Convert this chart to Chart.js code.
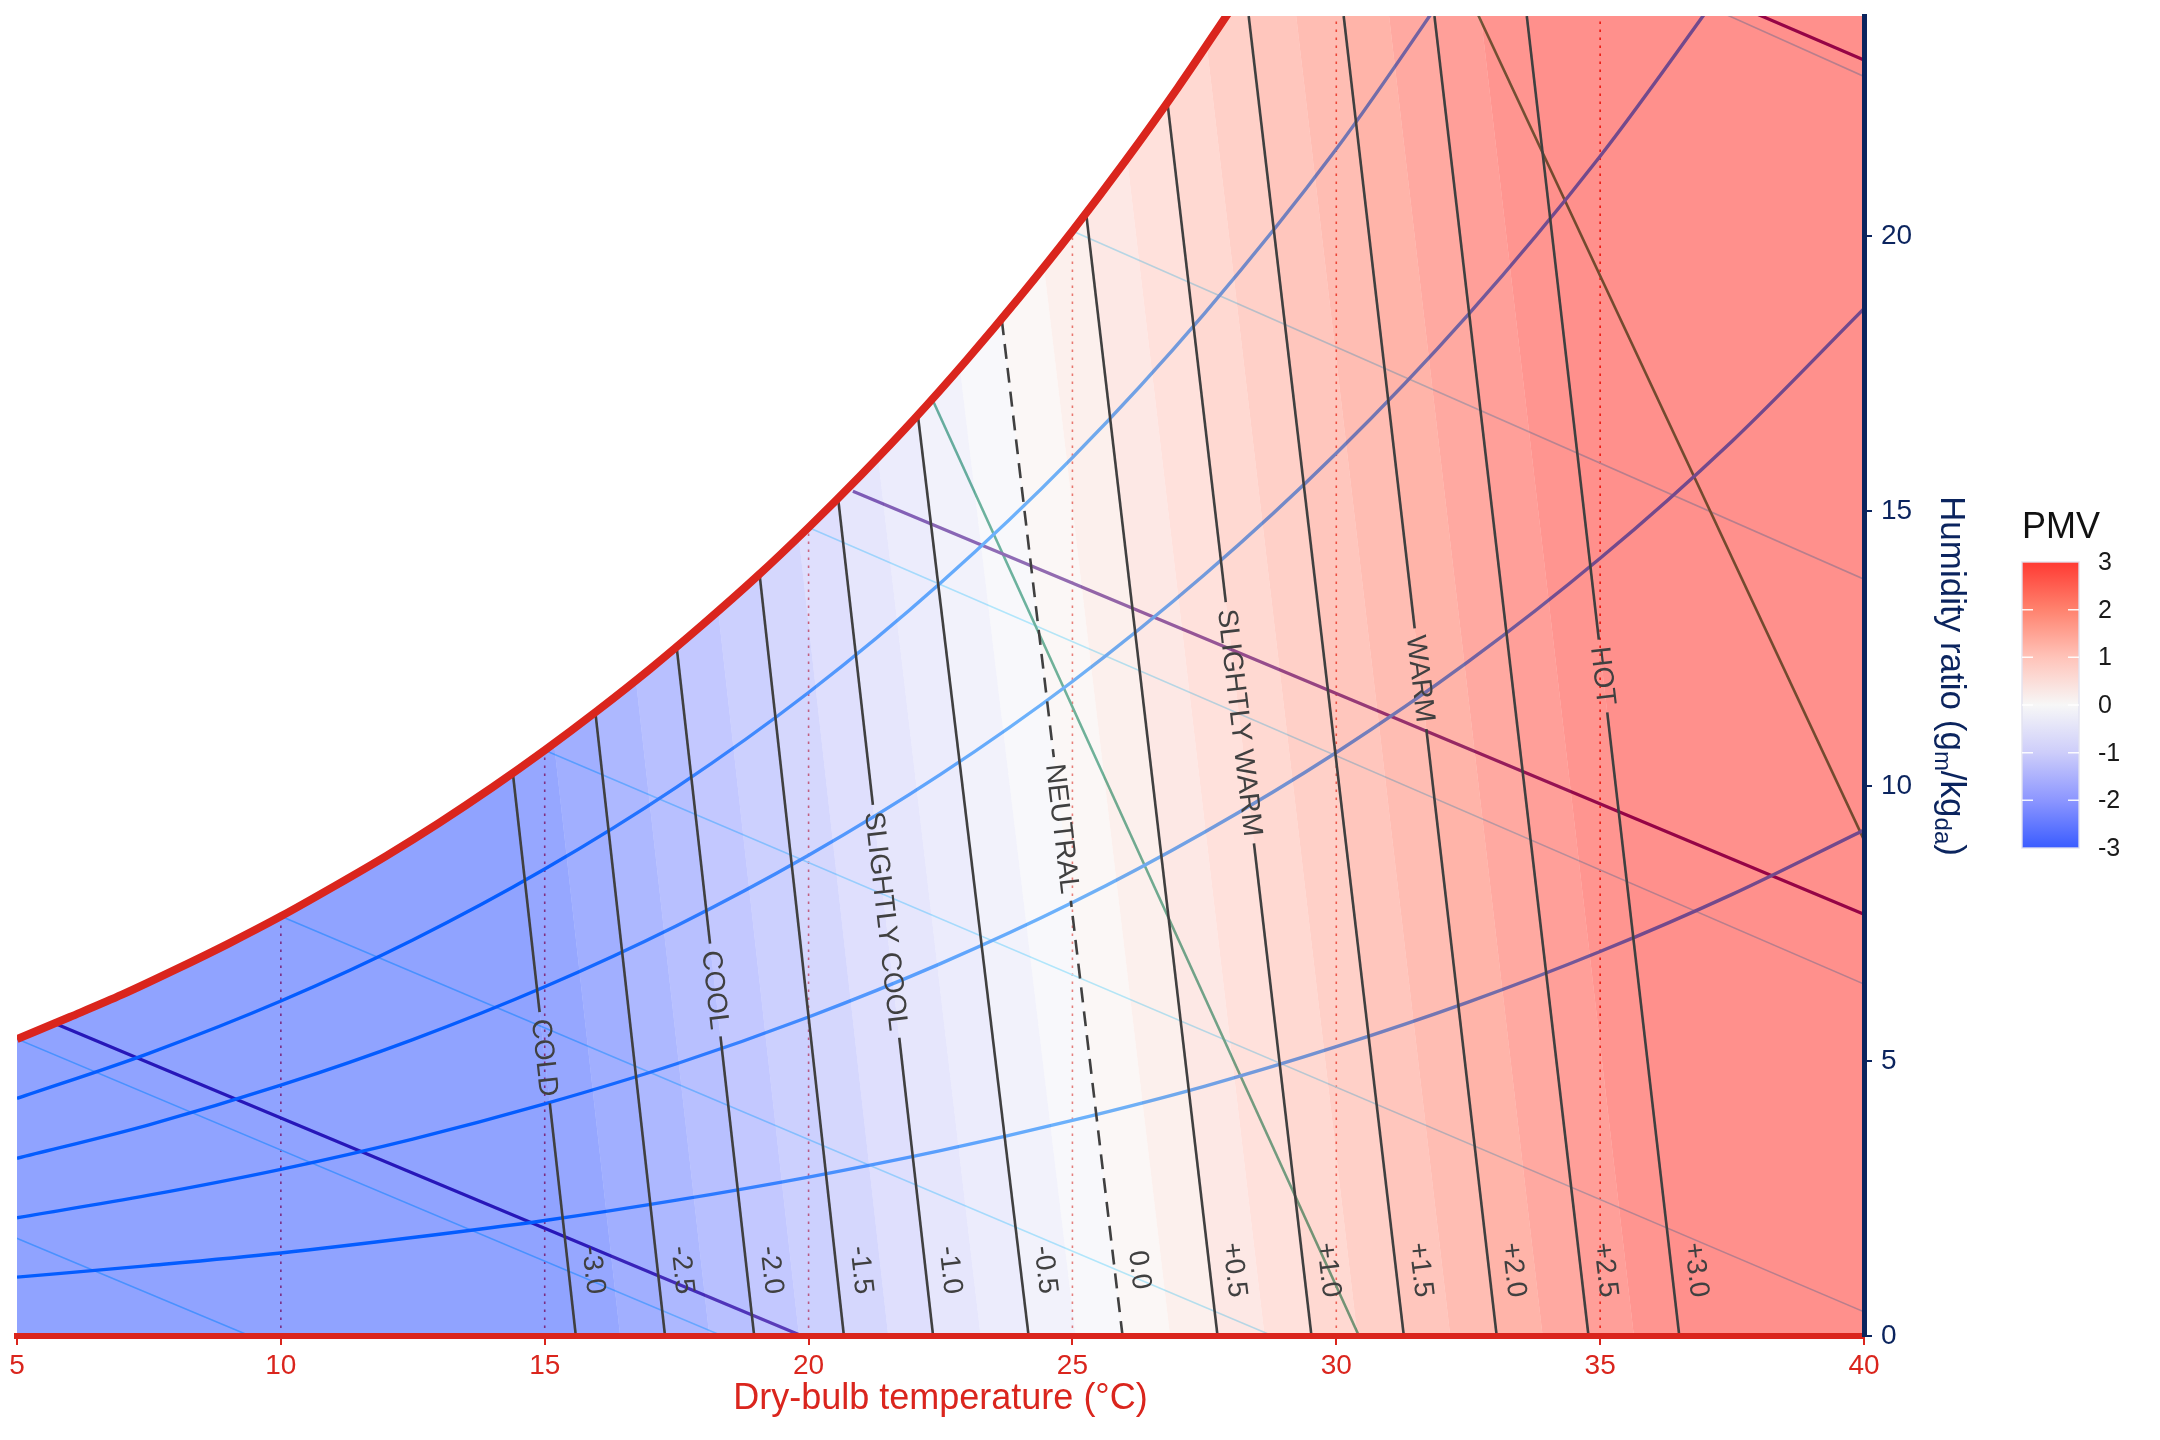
<!DOCTYPE html>
<html lang="en">
<head>
  <meta charset="UTF-8">
  <title>Psychrometric chart with PMV zones</title>
  <script src="https://cdn.jsdelivr.net/npm/chart.js"></script>
  <style>
    html, body { margin: 0; padding: 0; background: #fff; overflow: hidden; }
    #wrap { width: 2160px; height: 1440px; }
  </style>
</head>
<body>
<div id="wrap"><canvas id="psychro"></canvas></div>

<script>
  // axis ranges (dry bulb °C, humidity ratio g/kg)
  const tMin = 5, tMax = 40, wMin = 0, wMax = 24;

  // saturation curve
  const satT = [5, 6, 7, 8, 9, 10, 11, 12, 13, 14, 15, 16, 17, 18, 19, 20, 21, 22, 23, 24, 25, 26, 27, 28];
  const satW = [5.40, 5.80, 6.21, 6.66, 7.13, 7.63, 8.17, 8.73, 9.33, 9.97, 10.65, 11.37, 12.13, 12.94,
                13.79, 14.70, 15.66, 16.67, 17.75, 18.89, 20.09, 21.36, 22.70, 24.12];

  // constant relative humidity curves (20 / 40 / 60 / 80 %)
  const rhT = [5, 7.5, 10, 12.5, 15, 17.5, 20, 22.5, 25, 27.5, 30, 32.5, 35, 37.5, 40];
  const rh20 = [1.07, 1.28, 1.51, 1.79, 2.10, 2.47, 2.89, 3.37, 3.92, 4.54, 5.26, 6.07, 6.99, 8.03, 9.20];
  const rh40 = [2.15, 2.56, 3.03, 3.58, 4.22, 4.95, 5.80, 6.77, 7.88, 9.16, 10.61, 12.26, 14.14, 16.27, 18.68];
  const rh60 = [3.23, 3.84, 4.56, 5.39, 6.35, 7.46, 8.74, 10.21, 11.90, 13.84, 16.05, 18.57, 21.45, 24.73];
  const rh80 = [4.32, 5.14, 6.09, 7.20, 8.49, 9.98, 11.70, 13.69, 15.97, 18.59, 21.58, 25.02];

  // constant enthalpy lines (kJ/kg) : [T, W] end points
  const hValues = [20, 60, 100];
  const hStart = [[5.72, 5.68], [20.84, 15.36], [30.05, 27.30]];
  const hEnd = [[19.88, 0], [40, 7.67], [40, 23.20]];

  // constant specific volume lines (m3/kg)
  const vValues = [0.86, 0.90];
  const vStart = [[22.34, 17.04], [30.65, 28.20]];
  const vEnd = [[30.43, 0], [40, 9.02]];

  // constant wet bulb lines (°C)
  const wbValues = [0, 5, 10, 15, 20, 25, 30];
  const wbStart = [[0, 3.78], [5, 5.40], [10, 7.63], [15, 10.65], [20, 14.70], [25, 20.09], [30, 27.21]];
  const wbEnd = [[9.42, 0], [18.37, 0], [28.80, 0], [40, 0.44], [40, 6.40], [40, 13.76], [40, 22.90]];

  // constant dry bulb lines, up to saturation
  const dbValues = [10, 15, 20, 25, 30, 35];
  const dbTopW = [7.63, 10.65, 14.70, 20.09, 27.21, 36.59];

  // PMV iso-lines: dry bulb at W = 0 and end point on saturation / top
  const pmvLevels = [-3, -2.5, -2, -1.5, -1, -0.5, 0, 0.5, 1, 1.5, 2, 2.5, 3];
  const pmvT0 = [15.59, 17.28, 18.97, 20.67, 22.36, 24.17, 25.95, 27.75, 29.53, 31.28, 33.04, 34.78, 36.50];
  const pmvTopT = [14.40, 15.96, 17.50, 19.07, 20.56, 22.07, 23.66, 25.26, 26.80, 28.34, 30.14, 31.86, 33.61];
  const pmvTopW = [10.20, 11.34, 12.53, 13.86, 15.23, 16.75, 18.49, 20.41, 22.43, 24, 24, 24, 24];
  const pmvNameLevels = [-3, -2, -1, 0, 1, 2, 3];
  const pmvNames = ['COLD', 'COOL', 'SLIGHTLY COOL', 'NEUTRAL', 'SLIGHTLY WARM', 'WARM', 'HOT'];
  const pmvNameW = [5.06, 6.29, 7.54, 9.22, 11.15, 11.95, 12.0];
  const pmvNumW = 1.15;

  // filled PMV bands (step 0.25): dry bulb of each edge at W = 0 and W = 24
  const bandLevels = [-3, -2.75, -2.5, -2.25, -2, -1.75, -1.5, -1.25, -1, -0.75, -0.5, -0.25, 0,
                      0.25, 0.5, 0.75, 1, 1.25, 1.5, 1.75, 2, 2.25, 2.5, 2.75, 3];
  const bandT0 = [15.59, 16.43, 17.28, 18.12, 18.97, 19.82, 20.67, 21.51, 22.36, 23.26, 24.17, 25.06, 25.95,
                  26.85, 27.75, 28.64, 29.53, 30.40, 31.28, 32.16, 33.04, 33.91, 34.78, 35.64, 36.50];
  const bandT24 = [12.79, 13.64, 14.49, 15.32, 16.15, 17.03, 17.90, 18.71, 19.52, 20.34, 21.16, 22.07, 22.98,
                   23.90, 24.82, 25.72, 26.61, 27.48, 28.34, 29.24, 30.14, 31.00, 31.86, 32.74, 33.61];
  const legendTicks = [3, 2, 1, 0, -1, -2, -3];

  // ---- styles ----
  const RED = '#da251d', NAVY = '#0b245e', ISO = '#404040';
  const FONT = "'Liberation Sans', Arial, sans-serif";
  const cmStops = [[-3, [9, 51, 255]], [-2, [111, 124, 255]], [-1, [193, 193, 249]], [0, [245, 245, 245]],
                   [1, [255, 180, 168]], [2, [255, 99, 74]], [3, [255, 9, 0]]];
  const BAND_ALPHA = 0.45;

  function cmap(v) {
    v = Math.max(-3, Math.min(3, v));
    for (let i = 0; i < cmStops.length - 1; i++) {
      const [a, ca] = cmStops[i], [b, cb] = cmStops[i + 1];
      if (v <= b) {
        const f = (v - a) / (b - a);
        return ca.map((c, j) => Math.round(c + f * (cb[j] - c)));
      }
    }
    return cmStops[cmStops.length - 1][1];
  }
  const rgba = (c, a) => `rgba(${c[0]},${c[1]},${c[2]},${a})`;
  const pts = (xs, ys) => ys.map((y, i) => ({x: xs[i], y}));
  const seg = (a, b) => [{x: a[0], y: a[1]}, {x: b[0], y: b[1]}];

  const line = (data, color, width, order, extra) => Object.assign({
    data, borderColor: color, borderWidth: width, pointRadius: 0, fill: false, order
  }, extra || {});
  const shape = (data, color, order) => ({
    data, fill: 'shape', backgroundColor: color, borderColor: 'rgba(0,0,0,0)',
    borderWidth: 0, pointRadius: 0, order
  });

  const datasets = [];
  // top: saturation
  datasets.push(line(pts(satT, satW), RED, 8, 0, {cubicInterpolationMode: 'monotone'}));
  // PMV iso-lines
  pmvLevels.forEach((lv, k) => {
    datasets.push(line(seg([pmvT0[k], wMin], [pmvTopT[k], pmvTopW[k]]), ISO, 2.6, 1,
      {pmvIndex: k, borderDash: lv === 0 ? [15, 9] : []}));
  });
  // white mask above the saturation curve
  datasets.push(shape([...pts(satT, satW), {x: tMin, y: satW[satW.length - 1]}], '#ffffff', 2));
  // translucent PMV bands
  const band = (a0, a24, b0, b24) => [{x: a0, y: wMin}, {x: b0, y: wMin}, {x: b24, y: wMax}, {x: a24, y: wMax}];
  datasets.push(shape(band(tMin, tMin, bandT0[0], bandT24[0]), rgba(cmap(-3), BAND_ALPHA), 3));
  for (let i = 0; i < bandLevels.length - 1; i++) {
    const mid = (bandLevels[i] + bandLevels[i + 1]) / 2;
    datasets.push(shape(band(bandT0[i], bandT24[i], bandT0[i + 1], bandT24[i + 1]), rgba(cmap(mid), BAND_ALPHA), 3));
  }
  const last = bandLevels.length - 1;
  datasets.push(shape(band(bandT0[last], bandT24[last], tMax, tMax), rgba(cmap(3), BAND_ALPHA), 3));
  // psychrometric lines underneath
  [rh20, rh40, rh60, rh80].forEach(w => {
    datasets.push(line(pts(rhT, w), '#007fff', 3.4, 4, {cubicInterpolationMode: 'monotone'}));
  });
  hValues.forEach((h, i) => datasets.push(line(seg(hStart[i], hEnd[i]), '#400080', 3.2, 4)));
  vValues.forEach((v, i) => datasets.push(line(seg(vStart[i], vEnd[i]), '#008056', 2.6, 4)));
  wbValues.forEach((t, i) => datasets.push(line(seg(wbStart[i], wbEnd[i]), '#7fdfff', 1.6, 5)));
  dbValues.forEach((t, i) => datasets.push(line(seg([t, wMin], [t, dbTopW[i]]), RED, 1.6, 5, {borderDash: [2.5, 5.5]})));

  // ---- PMV labels ----
  const LABEL_FONT = `28px ${FONT}`;
  function isoLabels(chart, k) {
    const xs = chart.scales.x, ys = chart.scales.y, ctx = chart.ctx;
    const p0 = {x: xs.getPixelForValue(pmvT0[k]), y: ys.getPixelForValue(wMin)};
    const p1 = {x: xs.getPixelForValue(pmvTopT[k]), y: ys.getPixelForValue(pmvTopW[k])};
    const len = Math.hypot(p0.x - p1.x, p0.y - p1.y);
    const d = {x: (p0.x - p1.x) / len, y: (p0.y - p1.y) / len};
    const n = {x: d.y, y: -d.x};
    const at = w => {
      const py = ys.getPixelForValue(w);
      const t = (py - p0.y) / (p1.y - p0.y);
      return {x: p0.x + t * (p1.x - p0.x), y: py};
    };
    ctx.save();
    ctx.font = LABEL_FONT;
    const lv = pmvLevels[k];
    const num = (lv > 0 ? '+' : '') + lv.toFixed(1);
    const c = at(pmvNumW);
    const out = [{text: num, x: c.x + n.x * 25, y: c.y + n.y * 25, w: ctx.measureText(num).width, gap: false}];
    const j = pmvNameLevels.indexOf(lv);
    if (j >= 0) {
      const m = at(pmvNameW[j]);
      out.push({text: pmvNames[j], x: m.x, y: m.y, w: ctx.measureText(pmvNames[j]).width, gap: true});
    }
    ctx.restore();
    return {labels: out, d, n, angle: Math.atan2(d.y, d.x)};
  }

  const isoPlugin = {
    id: 'isoLabels',
    beforeDatasetDraw(chart, args) {
      const ds = chart.data.datasets[args.index];
      if (ds.pmvIndex === undefined) return;
      const ctx = chart.ctx;
      const g = isoLabels(chart, ds.pmvIndex);
      ctx.save();
      const gaps = g.labels.filter(l => l.gap);
      if (!gaps.length) return;
      ctx.beginPath();
      ctx.rect(0, 0, chart.width, chart.height);
      gaps.forEach(l => {
        const L = l.w / 2 + 7, H = 12;
        const pts4 = [[L, H], [L, -H], [-L, -H], [-L, H]].map(([a, b]) =>
          [l.x + g.d.x * a + g.n.x * b, l.y + g.d.y * a + g.n.y * b]);
        ctx.moveTo(pts4[0][0], pts4[0][1]);
        pts4.slice(1).forEach(p => ctx.lineTo(p[0], p[1]));
        ctx.closePath();
      });
      ctx.clip('evenodd');
    },
    afterDatasetDraw(chart, args) {
      const ds = chart.data.datasets[args.index];
      if (ds.pmvIndex === undefined) return;
      chart.ctx.restore();
    },
    afterDatasetsDraw(chart) {
      const ctx = chart.ctx;
      pmvLevels.forEach((lv, k) => {
        const g = isoLabels(chart, k);
        g.labels.forEach(l => {
          ctx.save();
          ctx.translate(l.x, l.y);
          ctx.rotate(g.angle);
          ctx.font = LABEL_FONT;
          ctx.fillStyle = ISO;
          ctx.textAlign = 'center';
          ctx.textBaseline = 'middle';
          ctx.fillText(l.text, 0, 1);
          ctx.restore();
        });
      });
    }
  };

  // ---- right axis title and PMV colour bar ----
  const sidePlugin = {
    id: 'side',
    afterDraw(chart) {
      const ctx = chart.ctx, a = chart.chartArea;
      // axis title with subscripts
      const parts = [['Humidity ratio (g', 0], ['m', 1], ['/kg', 0], ['da', 1], [')', 0]];
      const big = `35px ${FONT}`, small = `24px ${FONT}`;
      ctx.save();
      ctx.translate(a.right + 87, (a.top + a.bottom) / 2);
      ctx.rotate(Math.PI / 2);
      let total = 0;
      parts.forEach(([t, s]) => { ctx.font = s ? small : big; total += ctx.measureText(t).width; });
      let x = -total / 2;
      ctx.fillStyle = NAVY;
      ctx.textBaseline = 'middle';
      parts.forEach(([t, s]) => {
        ctx.font = s ? small : big;
        ctx.fillText(t, x, s ? 9 : 0);
        x += ctx.measureText(t).width;
      });
      ctx.restore();

      // colour bar
      const cb = {x: a.right + 158, y: 562, w: 57, h: 286};
      const grad = ctx.createLinearGradient(0, cb.y + cb.h, 0, cb.y);
      cmStops.forEach(([v, c]) => grad.addColorStop((v + 3) / 6, rgba(c.map(k => Math.round(51 + 0.8 * k)), 1)));
      ctx.save();
      ctx.fillStyle = grad;
      ctx.fillRect(cb.x, cb.y, cb.w, cb.h);
      ctx.strokeStyle = 'rgba(225,225,240,0.9)';
      ctx.lineWidth = 1.5;
      ctx.strokeRect(cb.x, cb.y, cb.w, cb.h);
      ctx.font = `25px ${FONT}`;
      ctx.textBaseline = 'middle';
      legendTicks.forEach(v => {
        const py = cb.y + cb.h - (v + 3) / 6 * cb.h;
        if (v > -3 && v < 3) {
          ctx.strokeStyle = 'rgba(255,255,255,0.9)';
          ctx.beginPath();
          ctx.moveTo(cb.x, py); ctx.lineTo(cb.x + 11, py);
          ctx.moveTo(cb.x + cb.w - 11, py); ctx.lineTo(cb.x + cb.w, py);
          ctx.stroke();
        }
        ctx.fillStyle = '#1a1a1a';
        ctx.fillText(String(v), cb.x + 76, py + 1);
      });
      ctx.font = `36px ${FONT}`;
      ctx.fillStyle = '#111';
      ctx.textBaseline = 'alphabetic';
      ctx.fillText('PMV', cb.x, cb.y - 24);
      ctx.restore();
    }
  };

  Chart.defaults.font.family = FONT;

  new Chart(document.getElementById('psychro'), {
    type: 'line',
    data: { datasets },
    options: {
      responsive: true,
      maintainAspectRatio: false,
      animation: false,
      events: [],
      layout: { padding: { left: 17, top: 16, right: 0, bottom: 0 } },
      plugins: { legend: { display: false }, tooltip: { enabled: false } },
      scales: {
        x: {
          type: 'linear', min: tMin, max: tMax, position: 'bottom',
          ticks: { stepSize: 5, includeBounds: false, color: RED, font: { size: 28 }, padding: 4 },
          grid: { drawOnChartArea: false, color: RED, lineWidth: 2, tickLength: 9 },
          border: { color: RED, width: 6, z: 1 },
          title: { display: true, text: 'Dry-bulb temperature (°C)', color: RED, font: { size: 36 },
                   padding: { top: 0, bottom: 19 } },
          afterFit: s => { s.height = 104; s.paddingLeft = 0; s.paddingRight = 0; }
        },
        y: {
          type: 'linear', min: wMin, max: wMax, position: 'right',
          ticks: { stepSize: 5, includeBounds: false, color: NAVY, font: { size: 28 }, padding: 9 },
          grid: { drawOnChartArea: false, color: NAVY, lineWidth: 2, tickLength: 8 },
          border: { color: NAVY, width: 5, z: 1 },
          afterFit: s => { s.width = 296; s.paddingTop = 0; s.paddingBottom = 0; }
        }
      }
    },
    plugins: [isoPlugin, sidePlugin]
  });
</script>
</body>
</html>
